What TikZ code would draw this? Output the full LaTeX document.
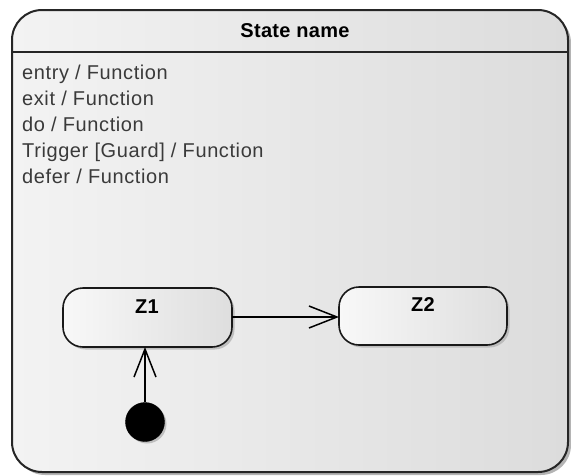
\documentclass[tikz,border=0pt]{standalone}
\usepackage{fontspec}
\setmainfont{Liberation Sans}
\newfontfamily\actfont[LetterSpace=3]{Liberation Sans}
\newfontfamily\titlefont[LetterSpace=1.5]{Liberation Sans}
\usetikzlibrary{arrows.meta,shadows}
\definecolor{bgL}{HTML}{F3F3F3}
\definecolor{bgR}{HTML}{DCDCDC}
\definecolor{zL}{HTML}{F8F8F8}
\definecolor{zR}{HTML}{DEDEDE}
\definecolor{txt}{HTML}{3A3A3A}
\definecolor{shd}{HTML}{B4B4B4}
\begin{document}
\begin{tikzpicture}[x=1pt,y=-1pt,
  font=\fontsize{20}{26}\selectfont,
  outerbox/.style={draw=black!85, line width=2pt, rounded corners=30pt,
    left color=bgL, right color=bgR, inner sep=0pt, outer sep=0pt,
    minimum width=556pt, minimum height=462pt,
    drop shadow={shadow xshift=3pt, shadow yshift=-3pt, fill=shd, opacity=1}},
  substate/.style={draw=black!90, line width=1.6pt, rounded corners=20pt,
    left color=zL, right color=zR, inner sep=0pt, outer sep=0pt,
    drop shadow={shadow xshift=2.5pt, shadow yshift=-2.5pt, fill=shd, opacity=0.8}},
  initstate/.style={circle, fill=black, draw=black, inner sep=0pt, minimum size=39pt,
    drop shadow={shadow xshift=2pt, shadow yshift=-2pt, fill=shd, opacity=0.8}},
  title/.style={font=\titlefont\fontsize{20}{24}\selectfont\bfseries, anchor=base, inner sep=0pt},
  act/.style={font=\actfont\fontsize{20}{26}\selectfont, text=txt, anchor=base west, inner sep=0pt},
  trans/.style={draw=black, line width=1.5pt,
    -{Straight Barb[length=28pt, width=22pt, line width=1.5pt]}}
]
\useasboundingbox (0,0) rectangle (571,475);
\node[outerbox] (outer) at (290,241) {};
\coordinate (hdr) at (0,52);
\draw[black!85, line width=2pt] (outer.west |- hdr) -- (outer.east |- hdr);
\node[title] (name) at (295,37) {State name};
\node[act] (a1) at (22,79) {entry / Function};
\node[act] (a2) at (22,105) {exit / Function};
\node[act] (a3) at (22,131) {do / Function};
\node[act] (a4) at (22,157) {Trigger [Guard] / Function};
\node[act] (a5) at (22,183) {defer / Function};
\node[substate, minimum width=169pt, minimum height=59pt] (z1) at (147.5,317.5) {};
\node[title] (z1t) at (147,313) {Z1};
\node[substate, minimum width=168pt, minimum height=58pt] (z2) at (423,316) {};
\node[title] (z2t) at (423,311) {Z2};
\node[initstate] (init) at (145,422) {};
\draw[trans] (z1.east |- 0,317) -- (z2.west |- 0,317);
\draw[trans] (init.north) -- (init.north |- z1.south);
\end{tikzpicture}
\end{document}
